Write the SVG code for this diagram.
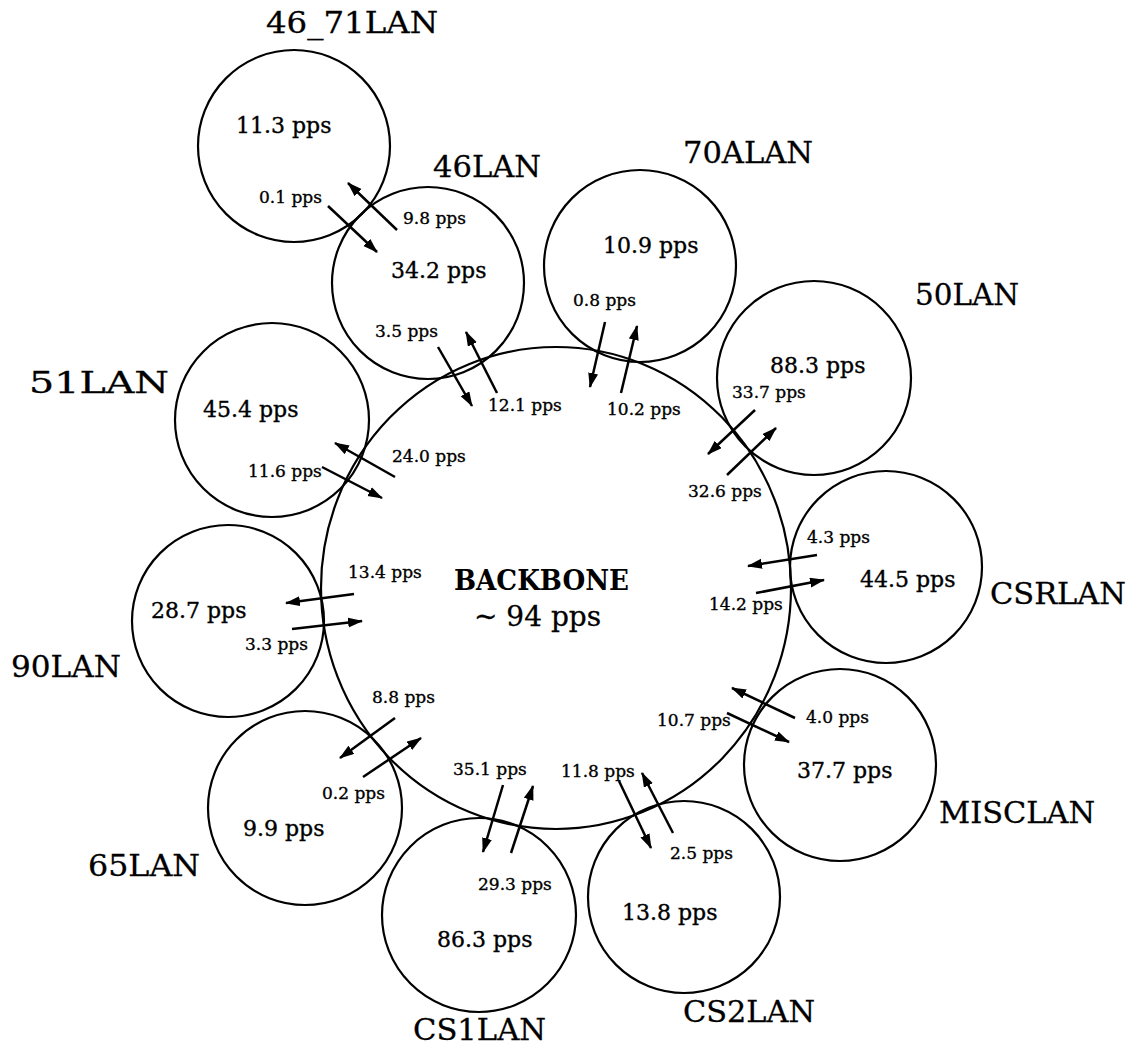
<svg xmlns="http://www.w3.org/2000/svg" width="1133" height="1046" viewBox="0 0 1133 1046">
<style>
  .ring { fill: none; stroke: #000; stroke-width: 2.2; }
  .name { font-family: "DejaVu Serif", "Liberation Serif", serif; font-size: 30px; fill: #000; stroke: #000; stroke-width: 0.3; }
  .rate { font-family: "DejaVu Serif", "Liberation Serif", serif; font-size: 22px; fill: #000; stroke: #000; stroke-width: 0.35; }
  .flow { font-family: "DejaVu Serif", "Liberation Serif", serif; font-size: 17px; fill: #000; stroke: #000; stroke-width: 0.35; }
  .arrow { stroke: #000; stroke-width: 2.5; fill: none; marker-end: url(#head); }
  .bb { font-family: "DejaVu Serif", "Liberation Serif", serif; font-size: 27px; font-weight: bold; fill: #000; }
  .bbr { font-family: "DejaVu Serif", "Liberation Serif", serif; font-size: 28px; fill: #000; stroke: #000; stroke-width: 0.3; }
</style>
<defs>
  <marker id="head" markerUnits="userSpaceOnUse" markerWidth="16" markerHeight="12" refX="14" refY="5" orient="auto">
    <path d="M0,0 L15,5 L0,10 z" fill="#000"/>
  </marker>
</defs>
<rect width="1133" height="1046" fill="#fff"/>

<g id="backbone">
  <ellipse class="ring" cx="556" cy="588" rx="235" ry="241"/>
  <text class="bb" x="454" y="590" textLength="175" lengthAdjust="spacingAndGlyphs">BACKBONE</text>
  <text class="bbr" x="474" y="626">~ 94 pps</text>
</g>

<g id="lan-46_71">
  <circle class="ring" cx="294" cy="146" r="96"/>
  <text class="name" x="266" y="33" textLength="172" lengthAdjust="spacingAndGlyphs">46_71LAN</text>
  <text class="rate" x="236" y="133">11.3 pps</text>
</g>
<g id="lan-46">
  <circle class="ring" cx="428" cy="283" r="96"/>
  <text class="name" x="433" y="177" textLength="108" lengthAdjust="spacingAndGlyphs">46LAN</text>
  <text class="rate" x="391" y="278">34.2 pps</text>
</g>
<g id="lan-70a">
  <circle class="ring" cx="640" cy="266" r="96"/>
  <text class="name" x="683" y="163" textLength="130" lengthAdjust="spacingAndGlyphs">70ALAN</text>
  <text class="rate" x="603" y="253">10.9 pps</text>
</g>
<g id="lan-50">
  <circle class="ring" cx="814" cy="378" r="97"/>
  <text class="name" x="915" y="305" textLength="104" lengthAdjust="spacingAndGlyphs">50LAN</text>
  <text class="rate" x="770" y="373">88.3 pps</text>
</g>
<g id="lan-csr">
  <circle class="ring" cx="886" cy="567" r="96"/>
  <text class="name" x="990" y="604" textLength="136" lengthAdjust="spacingAndGlyphs">CSRLAN</text>
  <text class="rate" x="860" y="587">44.5 pps</text>
</g>
<g id="lan-misc">
  <circle class="ring" cx="840" cy="765" r="96"/>
  <text class="name" x="939" y="823" textLength="156" lengthAdjust="spacingAndGlyphs">MISCLAN</text>
  <text class="rate" x="797" y="778">37.7 pps</text>
</g>
<g id="lan-cs2">
  <circle class="ring" cx="684" cy="897" r="96"/>
  <text class="name" x="683" y="1022" textLength="132" lengthAdjust="spacingAndGlyphs">CS2LAN</text>
  <text class="rate" x="622" y="920">13.8 pps</text>
</g>
<g id="lan-cs1">
  <circle class="ring" cx="479" cy="915" r="97"/>
  <text class="name" x="413" y="1040" textLength="133" lengthAdjust="spacingAndGlyphs">CS1LAN</text>
  <text class="rate" x="437" y="947">86.3 pps</text>
</g>
<g id="lan-65">
  <circle class="ring" cx="305" cy="808" r="97"/>
  <text class="name" x="88" y="876" textLength="112" lengthAdjust="spacingAndGlyphs">65LAN</text>
  <text class="rate" x="243" y="836">9.9 pps</text>
</g>
<g id="lan-90">
  <circle class="ring" cx="228" cy="621" r="96"/>
  <text class="name" x="11" y="677" textLength="110" lengthAdjust="spacingAndGlyphs">90LAN</text>
  <text class="rate" x="151" y="618">28.7 pps</text>
</g>
<g id="lan-51">
  <circle class="ring" cx="272" cy="420" r="97"/>
  <text class="name" x="29" y="393" textLength="140" lengthAdjust="spacingAndGlyphs">51LAN</text>
  <text class="rate" x="203" y="417">45.4 pps</text>
</g>

<g id="connectors">
  <line class="arrow" x1="328" y1="206" x2="377" y2="252"/>
  <line class="arrow" x1="397" y1="230" x2="348" y2="183"/>
  <text class="flow" x="259" y="203">0.1 pps</text>
  <text class="flow" x="403" y="224">9.8 pps</text>
  <line class="arrow" x1="438" y1="347" x2="472" y2="406"/>
  <line class="arrow" x1="497" y1="393" x2="466" y2="332"/>
  <text class="flow" x="375" y="337">3.5 pps</text>
  <text class="flow" x="488" y="411">12.1 pps</text>
  <line class="arrow" x1="605" y1="322" x2="590" y2="387"/>
  <line class="arrow" x1="621" y1="393" x2="637" y2="326"/>
  <text class="flow" x="573" y="306">0.8 pps</text>
  <text class="flow" x="607" y="415">10.2 pps</text>
  <line class="arrow" x1="755" y1="410" x2="708" y2="454"/>
  <line class="arrow" x1="727" y1="475" x2="776" y2="428"/>
  <text class="flow" x="732" y="398">33.7 pps</text>
  <text class="flow" x="688" y="497">32.6 pps</text>
  <line class="arrow" x1="817" y1="555" x2="748" y2="566"/>
  <line class="arrow" x1="756" y1="593" x2="824" y2="580"/>
  <text class="flow" x="807" y="543">4.3 pps</text>
  <text class="flow" x="709" y="610">14.2 pps</text>
  <line class="arrow" x1="795" y1="718" x2="732" y2="688"/>
  <line class="arrow" x1="727" y1="713" x2="789" y2="742"/>
  <text class="flow" x="806" y="723">4.0 pps</text>
  <text class="flow" x="657" y="726">10.7 pps</text>
  <line class="arrow" x1="619" y1="781" x2="651" y2="848"/>
  <line class="arrow" x1="673" y1="833" x2="642" y2="773"/>
  <text class="flow" x="561" y="777">11.8 pps</text>
  <text class="flow" x="670" y="859">2.5 pps</text>
  <line class="arrow" x1="503" y1="785" x2="483" y2="852"/>
  <line class="arrow" x1="511" y1="853" x2="533" y2="786"/>
  <text class="flow" x="453" y="775">35.1 pps</text>
  <text class="flow" x="478" y="890">29.3 pps</text>
  <line class="arrow" x1="395" y1="718" x2="340" y2="758"/>
  <line class="arrow" x1="363" y1="777" x2="421" y2="738"/>
  <text class="flow" x="372" y="703">8.8 pps</text>
  <text class="flow" x="322" y="799">0.2 pps</text>
  <line class="arrow" x1="354" y1="594" x2="286" y2="603"/>
  <line class="arrow" x1="292" y1="629" x2="362" y2="621"/>
  <text class="flow" x="348" y="578">13.4 pps</text>
  <text class="flow" x="245" y="650">3.3 pps</text>
  <line class="arrow" x1="395" y1="477" x2="335" y2="443"/>
  <line class="arrow" x1="322" y1="467" x2="382" y2="498"/>
  <text class="flow" x="392" y="462">24.0 pps</text>
  <text class="flow" x="248" y="477">11.6 pps</text>
</g>
</svg>
